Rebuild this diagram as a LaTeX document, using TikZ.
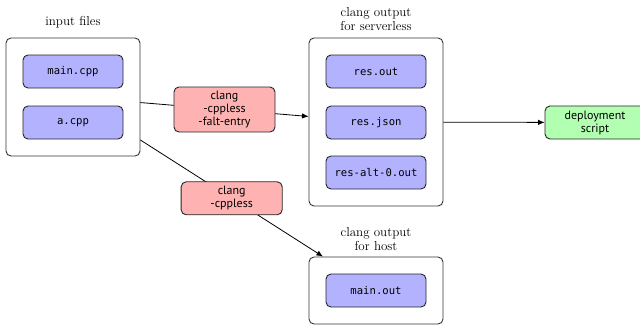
\documentclass[tikz,border=0pt]{standalone}
\usepackage{fontspec}
\setmainfont{Latin Modern Roman}
\setsansfont{PT Sans}
\setmonofont{DejaVu Sans Mono}
\usetikzlibrary{arrows.meta}
\begin{document}
\begin{tikzpicture}[x=1pt,y=-1pt,
  group/.style={draw=black!80, line width=0.9pt, fill=white, rounded corners=5pt, inner sep=0pt, minimum width=134pt},
  filebox/.style={draw=black!85, line width=0.9pt, fill=blue!30, rounded corners=5pt, minimum width=100pt, minimum height=33pt, inner sep=0pt, font=\fontsize{10.6}{12}\ttfamily},
  toolbox/.style={draw=black!85, line width=0.9pt, fill=red!30, rounded corners=5pt, minimum width=101pt, inner sep=0pt, align=center, font=\fontsize{12}{13}\sffamily},
  scriptbox/.style={draw=black!85, line width=0.9pt, fill=green!30, rounded corners=5pt, minimum width=100pt, minimum height=33pt, inner sep=0pt, align=center, font=\fontsize{12}{13}\sffamily},
  title/.style={align=center, inner sep=0pt, font=\fontsize{13}{14}\selectfont},
  conn/.style={line width=0.8pt, -{Latex[length=6.5pt,width=5.5pt]}}]
\useasboundingbox (0,0) rectangle (640,325);
% groups
\node[group, minimum height=118pt] (input) at (73,97) {};
\node[group, minimum height=168pt] (srv) at (376,122) {};
\node[group, minimum height=67pt] (host) at (376,290.5) {};
% titles
\node[title] (tin) at (73,22) {input files};
\node[title] (tsrv) at (376,19) {clang output\\for serverless};
\node[title] (thost) at (376,239) {clang output\\for host};
% files
\node[filebox] (maincpp) at (73,71.5) {main.cpp};
\node[filebox] (acpp) at (73,122.5) {a.cpp};
\node[filebox] (resout) at (376,71.5) {res.out};
\node[filebox] (resjson) at (376,122.5) {res.json};
\node[filebox] (resalt) at (376,172.5) {res-alt-0.out};
\node[filebox] (mainout) at (376,290.5) {main.out};
\node[scriptbox] (deploy) at (595,122.5) {deployment\\script};
% connectors
\draw[conn] (input) -- node[toolbox, minimum height=45pt] (c1) {clang\\-cppless\\-falt-entry} (srv);
\draw[conn] (input) -- node[toolbox, minimum height=33pt] (c2) {clang\\-cppless} (host);
\draw[conn] (srv) -- (deploy);
\end{tikzpicture}
\end{document}
